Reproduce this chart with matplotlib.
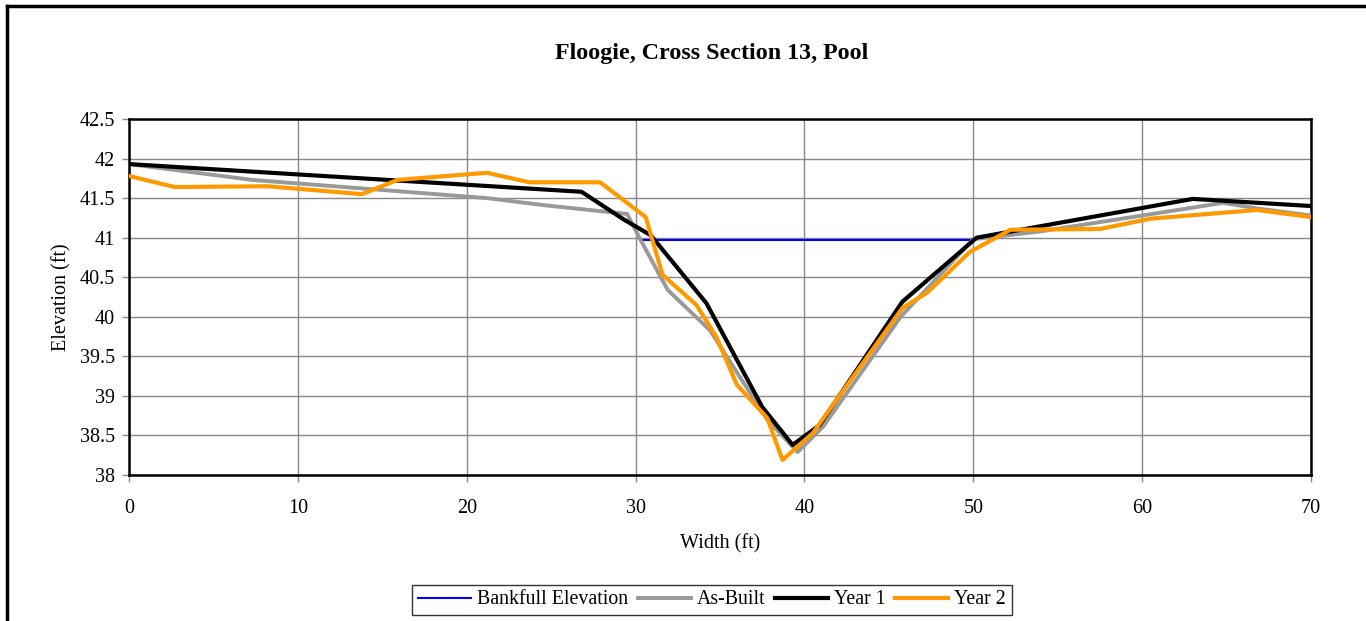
import matplotlib
matplotlib.use("Agg")
import matplotlib.pyplot as plt
from matplotlib.lines import Line2D

plt.rcParams['font.family'] = ['Liberation Serif', 'DejaVu Serif']

# bankfull elevation
bankfull_x = [30.3, 50.0]
bankfull_y = [40.97, 40.97]

# as-built survey
asbuilt_x = [0.0, 7.3, 21.2, 24.6, 29.5, 30.3, 31.9, 34.4, 37.8, 39.6, 41.1, 45.7, 50.0, 54.0, 64.8, 66.8, 70.0]
asbuilt_y = [41.93, 41.73, 41.50, 41.41, 41.30, 40.97, 40.34, 39.83, 38.70, 38.29, 38.61, 40.00, 40.98, 41.08, 41.44, 41.37, 41.28]

# year 1 survey
year1_x = [0.0, 26.8, 29.3, 30.9, 34.2, 37.5, 39.3, 40.9, 45.8, 50.2, 63.0, 70.0]
year1_y = [41.93, 41.58, 41.23, 41.03, 40.17, 38.86, 38.38, 38.63, 40.19, 41.00, 41.49, 41.40]

# year 2 survey
year2_x = [0.0, 2.7, 8.2, 13.8, 15.9, 21.2, 23.7, 27.9, 30.6, 31.6, 33.6, 34.8, 36.0, 37.8, 38.7, 40.5, 42.3,
           45.8, 47.3, 49.8, 52.2, 57.5, 60.5, 66.8, 70.0]
year2_y = [41.78, 41.64, 41.65, 41.55, 41.73, 41.82, 41.70, 41.70, 41.26, 40.53, 40.15, 39.74, 39.14, 38.72, 38.19,
           38.53, 39.07, 40.11, 40.31, 40.82, 41.10, 41.11, 41.24, 41.35, 41.26]

fig = plt.figure(figsize=(13.66, 6.21), dpi=100)
ax = fig.add_axes([129 / 1366, 1 - 475 / 621, (1311 - 129) / 1366, (475 - 119) / 621])

ax.plot(bankfull_x, bankfull_y, color='#0000ff', lw=1.5, label='Bankfull Elevation', zorder=3)
ax.plot(asbuilt_x, asbuilt_y, color='#999999', lw=2.8, label='As-Built', zorder=3)
ax.plot(year1_x, year1_y, color='black', lw=3.0, label='Year 1', zorder=4)
ax.plot(year2_x, year2_y, color='#ff9900', lw=3.0, label='Year 2', zorder=5)

ax.set_xlim(0, 70)
ax.set_ylim(38, 42.5)
ax.set_xticks(range(0, 71, 10))
ax.set_yticks([38 + 0.5 * i for i in range(10)])
ax.set_yticklabels(['38', '38.5', '39', '39.5', '40', '40.5', '41', '41.5', '42', '42.5'])
ax.grid(True, color='#888888', lw=1.0)
ax.set_axisbelow(True)
for s in ax.spines.values():
    s.set_linewidth(1.8)
ax.tick_params(direction='out', length=5, width=1, color='#888888', labelsize=14.5, pad=5)
ax.tick_params(axis='x', pad=12)

ax.set_xlabel('Width (ft)', fontsize=14.5, labelpad=12)
ax.set_ylabel('Elevation (ft)', fontsize=14.5, labelpad=6)
fig.text(712 / 1366, 1 - 54 / 621, 'Floogie, Cross Section 13, Pool', ha='center', va='center',
         fontsize=17.3, fontweight='bold')

leg = ax.legend(loc='center', bbox_to_anchor=(712 / 1366, 1 - 600 / 621), bbox_transform=fig.transFigure,
                ncol=4, fontsize=14.3, frameon=True, fancybox=False, edgecolor='black', handlelength=2.65,
                handletextpad=0.3, columnspacing=0.5, borderpad=0.3, borderaxespad=0)
leg.get_frame().set_linewidth(1.0)

# outer chart border (left and top edges visible)
fig.add_artist(Line2D([7 / 1366, 7 / 1366], [0, 1 - 6 / 621], transform=fig.transFigure, color='black', lw=2.5))
fig.add_artist(Line2D([7 / 1366, 1], [1 - 6 / 621, 1 - 6 / 621], transform=fig.transFigure, color='black', lw=2.5))

fig.savefig('out.png', dpi=100)
